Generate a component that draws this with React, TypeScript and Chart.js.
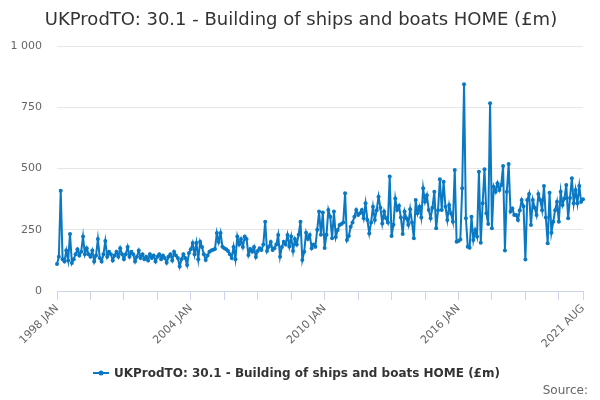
import { Chart, registerables } from "chart.js";
import { useEffect, useRef } from "react";

Chart.register(...registerables);

const seriesName = "UKProdTO: 30.1 - Building of ships and boats HOME (£m)";
const years = [1998, 1999, 2000, 2001, 2002, 2003, 2004, 2005, 2006, 2007, 2008, 2009, 2010, 2011, 2012, 2013, 2014, 2015, 2016, 2017, 2018, 2019, 2020, 2021];
const months = ["JAN", "FEB", "MAR", "APR", "MAY", "JUN", "JUL", "AUG", "SEP", "OCT", "NOV", "DEC"];
const lastMonthIndex = 7; // 2021 AUG

// monthly values, £m
const values1998to2003 = [
    110, 140, 409, 130, 120, 165, 125, 233, 114, 130, 150, 170,
    145, 160, 222, 150, 175, 150, 140, 165, 120, 145, 212, 135,
    120, 150, 204, 140, 160, 150, 125, 145, 160, 140, 175, 150,
    130, 150, 180, 140, 160, 150, 120, 140, 165, 135, 150, 130,
    140, 125, 150, 135, 145, 120, 140, 150, 130, 145, 135, 115,
    140, 150, 125, 160, 145, 135, 100, 130, 150, 135, 106, 155,
];
const values2004to2009 = [
    170, 196, 150, 196, 130, 201, 180, 150, 127, 145, 160, 165,
    168, 171, 237, 200, 237, 181, 175, 170, 163, 150, 135, 180,
    130, 222, 190, 212, 180, 222, 212, 147, 171, 160, 180, 139,
    163, 175, 167, 190, 283, 163, 181, 200, 167, 175, 190, 229,
    140, 180, 201, 190, 229, 182, 222, 163, 212, 190, 230, 283,
    127, 160, 238, 212, 229, 175, 190, 181, 250, 324, 230, 320,
];
const values2010to2015 = [
    176, 230, 331, 303, 215, 324, 220, 249, 269, 273, 280, 399,
    208, 225, 262, 280, 303, 331, 310, 317, 331, 297, 358, 290,
    235, 280, 344, 290, 330, 385, 340, 276, 324, 297, 280, 467,
    224, 270, 378, 331, 348, 300, 233, 324, 297, 270, 334, 280,
    215, 371, 317, 344, 300, 419, 364, 391, 331, 297, 340, 405,
    256, 330, 456, 331, 446, 344, 290, 351, 316, 283, 494, 201,
];
const values2016to2021 = [
    204, 210, 419, 844, 297, 181, 177, 303, 208, 249, 222, 487,
    197, 358, 497, 317, 273, 766, 256, 426, 405, 440, 412, 433,
    510, 165, 405, 518, 324, 337, 310, 310, 290, 330, 371, 346,
    129, 371, 396, 269, 371, 340, 310, 396, 371, 330, 429, 300,
    195, 401, 238, 283, 330, 364, 283, 405, 351, 378, 433, 297,
    380, 460, 358, 412, 358, 429, 364, 374,
];
const yTicks = [0, 250, 500, 750, 1000];

const BLUE = "#0a78c2";
const AXIS = "#ccd6eb";
const FONT = "'DejaVu Sans', sans-serif";

const labels: string[] = [];
years.forEach((y, yi) => {
    months.forEach((m, mi) => {
        if (yi === years.length - 1 && mi > lastMonthIndex) return;
        labels.push(`${y} ${m}`);
    });
});
const values = [...values1998to2003, ...values2004to2009, ...values2010to2015, ...values2016to2021];
const lastIndex = labels.length - 1;

// title, legend and source line drawn straight on the canvas
const textPlugin = {
    id: "textPlugin",
    afterDraw(chart: Chart) {
        const ctx = chart.ctx;
        ctx.save();
        ctx.fillStyle = "#333333";
        ctx.font = `18px ${FONT}`;
        ctx.textAlign = "center";
        ctx.textBaseline = "alphabetic";
        ctx.fillText(seriesName, 301, 25);

        ctx.strokeStyle = BLUE;
        ctx.lineWidth = 2;
        ctx.beginPath();
        ctx.moveTo(93, 373);
        ctx.lineTo(109, 373);
        ctx.stroke();
        ctx.fillStyle = BLUE;
        ctx.beginPath();
        ctx.arc(101, 373, 2.5, 0, Math.PI * 2);
        ctx.fill();

        ctx.fillStyle = "#333333";
        ctx.font = `bold 12px ${FONT}`;
        ctx.textAlign = "left";
        ctx.fillText(seriesName, 114, 377);

        ctx.fillStyle = "#666666";
        ctx.font = `12px ${FONT}`;
        ctx.textAlign = "right";
        ctx.fillText("Source:", 588, 394);
        ctx.restore();
    },
};

export default function App() {
    const canvasRef = useRef<HTMLCanvasElement>(null);

    useEffect(() => {
        if (canvasRef.current === null) return;
        const chart = new Chart(canvasRef.current, {
            type: "line",
            data: {
                labels,
                datasets: [{
                    label: seriesName,
                    data: values,
                    borderColor: BLUE,
                    backgroundColor: BLUE,
                    borderWidth: 2,
                    pointRadius: 2,
                    pointBorderWidth: 0,
                    pointBackgroundColor: BLUE,
                    tension: 0,
                }],
            },
            options: {
                animation: false,
                responsive: true,
                maintainAspectRatio: false,
                layout: { padding: { top: 46, right: 17, bottom: 0, left: 0 } },
                plugins: {
                    legend: { display: false },
                    title: { display: false },
                    tooltip: { enabled: false },
                },
                scales: {
                    x: {
                        grid: {
                            drawOnChartArea: false,
                            drawTicks: true,
                            tickLength: 9,
                            tickColor: (c: any) => (c.index % 18 === 0 || c.index === lastIndex ? AXIS : "rgba(0,0,0,0)"),
                        },
                        border: { color: AXIS, width: 1 },
                        ticks: {
                            autoSkip: false,
                            minRotation: 45,
                            maxRotation: 45,
                            color: "#666666",
                            font: { family: FONT, size: 11 },
                            padding: 2,
                            callback: (_v: any, i: number) => (i % 72 === 0 || i === lastIndex ? labels[i] : ""),
                        },
                        afterFit: (s: any) => { s.height = 109; },
                    },
                    y: {
                        min: 0,
                        max: 1000,
                        grid: { color: "#e6e6e6", drawTicks: false },
                        border: { display: false },
                        afterBuildTicks: (s: any) => { s.ticks = yTicks.map((v) => ({ value: v })); },
                        ticks: {
                            color: "#666666",
                            font: { family: FONT, size: 11 },
                            padding: 15,
                            callback: (v: any) => (Number(v) >= 1000 ? "1 000" : String(v)),
                        },
                        afterFit: (s: any) => { s.width = 57; },
                    },
                },
            },
            plugins: [textPlugin],
        });
        return () => chart.destroy();
    }, []);

    return (
        <div style={{ position: "absolute", left: 0, top: 0, width: 600, height: 400 }}>
            <canvas ref={canvasRef} />
        </div>
    );
}
